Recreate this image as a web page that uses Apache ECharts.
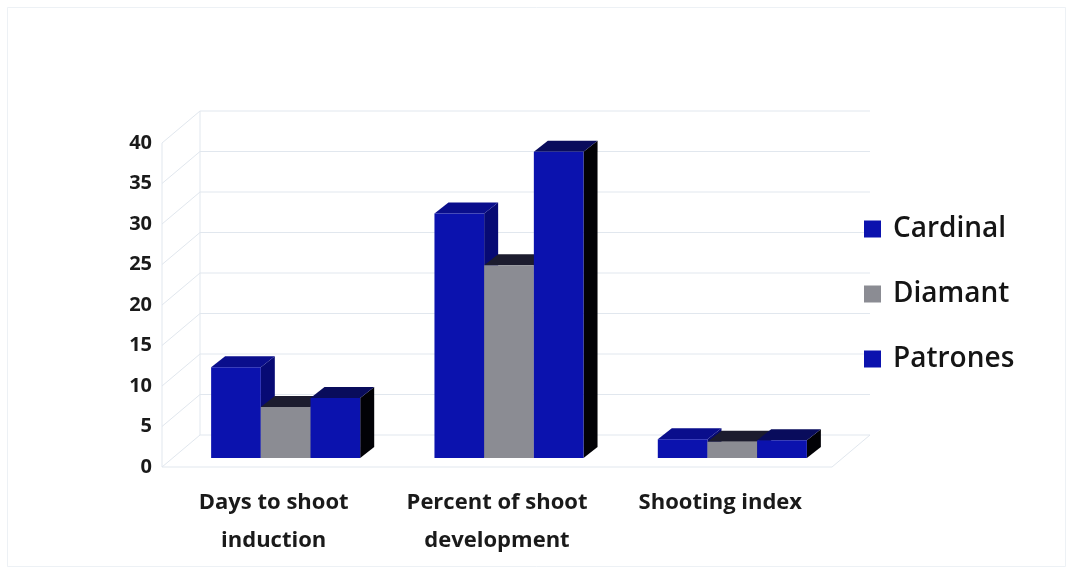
<!DOCTYPE html>
<html>
<head>
<meta charset="utf-8">
<script src="https://cdn.jsdelivr.net/npm/echarts@6/dist/echarts.min.js"></script>
<style>
  html, body { margin: 0; padding: 0; background: #ffffff; }
  #chart { width: 1072px; height: 573px; }
</style>
</head>
<body>
<div id="chart"></div>
<script>
// Trait measurements per cultivar
const categories = ['Days to shoot\ninduction', 'Percent of shoot\ndevelopment', 'Shooting index'];
const cardinal = [11.2, 30.2, 2.3];
const diamant = [6.3, 23.8, 2.0];
const patrones = [7.4, 37.8, 2.2];
const seriesNames = ['Cardinal', 'Diamant', 'Patrones'];
const yTicks = [0, 5, 10, 15, 20, 25, 30, 35, 40];

// Pseudo-3D geometry (pixels)
const WALL = [38, -32];   // floor depth: front edge -> back wall
const BAR_POS = [12, -9]; // where the bars' front faces sit in depth
const BAR_DEPTH = [14, -11];

const faceColors = [
  { front: '#0b12ae', top: '#0a0e8c', side: '#070a74' },
  { front: '#8b8c93', top: '#1c1c2e', side: '#141420' },
  { front: '#0b12ae', top: '#090c5c', side: '#020206' }
];

function barRenderer(seriesIdx) {
  return function (params, api) {
    const idx = api.value(0);
    const val = api.value(1);
    const base = api.coord([idx, 0]);
    const topPt = api.coord([idx, val]);
    const catW = api.size([1, 0])[0];
    const bw = catW * 0.2225;
    const x0 = base[0] + (seriesIdx - 1.5) * bw + BAR_POS[0];
    const yb = base[1] + BAR_POS[1];
    const yt = topPt[1] + BAR_POS[1];
    const c = faceColors[seriesIdx];
    const dx = BAR_DEPTH[0], dy = BAR_DEPTH[1];
    return {
      type: 'group',
      children: [
        { type: 'polygon', shape: { points: [[x0 + bw, yt], [x0 + bw + dx, yt + dy], [x0 + bw + dx, yb + dy], [x0 + bw, yb]] }, style: { fill: c.side } },
        { type: 'polygon', shape: { points: [[x0, yt], [x0 + bw, yt], [x0 + bw + dx, yt + dy], [x0 + dx, yt + dy]] }, style: { fill: c.top } },
        { type: 'rect', shape: { x: x0, y: yt, width: bw, height: yb - yt }, style: { fill: c.front } }
      ]
    };
  };
}

// Walls and gridlines of the 3D box
function wallRenderer(params, api) {
  const v = api.value(0);
  const catW = api.size([1, 0])[0];
  const first = api.coord([0, v]);
  const last = api.coord([categories.length - 1, v]);
  const left = [first[0] - catW / 2, first[1]];
  const right = [last[0] + catW / 2, last[1]];
  const stroke = { stroke: '#e1e7ee', lineWidth: 1, fill: null };
  const children = [
    { type: 'line', shape: { x1: left[0], y1: left[1], x2: left[0] + WALL[0], y2: left[1] + WALL[1] }, style: stroke },
    { type: 'line', shape: { x1: left[0] + WALL[0], y1: left[1] + WALL[1], x2: right[0] + WALL[0], y2: right[1] + WALL[1] }, style: stroke }
  ];
  if (v === 0) {
    const topY = api.coord([0, yTicks[yTicks.length - 1]])[1];
    children.push(
      { type: 'line', shape: { x1: left[0], y1: left[1], x2: right[0], y2: right[1] }, style: stroke },
      { type: 'line', shape: { x1: right[0], y1: right[1], x2: right[0] + WALL[0], y2: right[1] + WALL[1] }, style: stroke },
      { type: 'line', shape: { x1: left[0], y1: left[1], x2: left[0], y2: topY }, style: stroke },
      { type: 'line', shape: { x1: left[0] + WALL[0], y1: left[1] + WALL[1], x2: left[0] + WALL[0], y2: topY + WALL[1] }, style: stroke }
    );
  }
  return { type: 'group', children: children };
}

const valueSets = [cardinal, diamant, patrones];
const barSeries = seriesNames.map(function (name, i) {
  return {
    name: name,
    type: 'custom',
    renderItem: barRenderer(i),
    encode: { x: 0, y: 1 },
    data: valueSets[i].map(function (v, k) { return [k, v]; }),
    itemStyle: { color: i === 1 ? '#8b8c93' : '#0b12ae' },
    z: 3
  };
});

const chart = echarts.init(document.getElementById('chart'), null, { renderer: 'canvas' });
chart.setOption({
  animation: false,
  backgroundColor: '#ffffff',
  textStyle: { fontFamily: 'Open Sans' },
  graphic: [{
    type: 'rect', shape: { x: 7.5, y: 7.5, width: 1058, height: 559 },
    style: { fill: null, stroke: '#edf1f5', lineWidth: 1 }, silent: true
  }],
  grid: { left: 162, right: 240, top: 143, bottom: 106 },
  legend: {
    data: seriesNames,
    orient: 'vertical',
    left: 859,
    top: 210,
    itemWidth: 17,
    itemHeight: 17,
    itemGap: 37,
    icon: 'rect',
    textStyle: { fontSize: 28, fontWeight: 600, color: '#151515', fontFamily: 'Open Sans', padding: [0, 0, 0, 7] }
  },
  xAxis: {
    type: 'category',
    data: categories,
    axisLine: { show: false },
    axisTick: { show: false },
    splitLine: { show: false },
    axisLabel: {
      margin: 17,
      fontSize: 22,
      fontWeight: 700,
      lineHeight: 38,
      color: '#1a1a1a',
      fontFamily: 'Open Sans',
      interval: 0
    }
  },
  yAxis: {
    type: 'value',
    min: 0,
    max: 40,
    interval: 5,
    axisLine: { show: false },
    axisTick: { show: false },
    splitLine: { show: false },
    axisLabel: { margin: 10, fontSize: 20, fontWeight: 700, color: '#1a1a1a', fontFamily: 'Open Sans' }
  },
  series: [{
    name: 'walls',
    type: 'custom',
    renderItem: wallRenderer,
    encode: { y: 0 },
    data: yTicks.map(function (t) { return [t]; }),
    silent: true,
    z: 1
  }].concat(barSeries)
});
</script>
</body>
</html>
